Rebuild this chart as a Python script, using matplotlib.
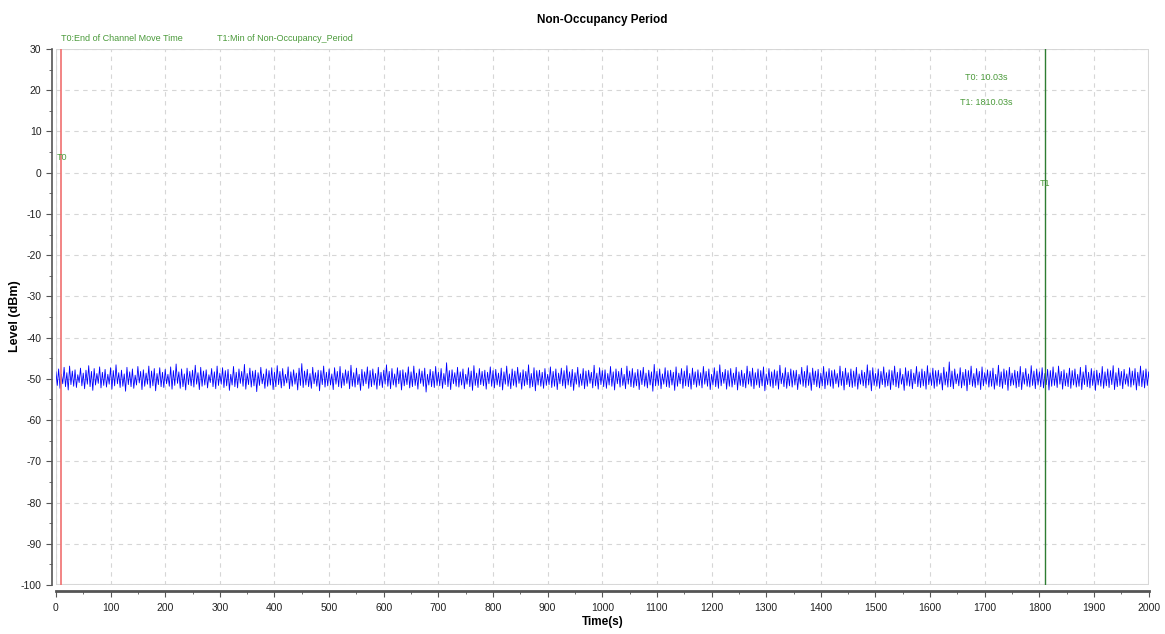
import matplotlib
matplotlib.use('Agg')
import matplotlib.pyplot as plt
from matplotlib.patches import Rectangle
from matplotlib.ticker import MultipleLocator

plt.rcParams['font.family'] = ['Liberation Sans', 'DejaVu Sans']
plt.rcParams['axes.unicode_minus'] = False

# ---- données ----
t0 = 10.03
t1 = 1810.03
pas = 5  # crêtes toutes les 5 s, creux décalés de 2.5 s

# crêtes du bruit (dBm)
cretes = [
    -48.3, -47.6, -48.9, -47.2, -48.5, -46.9, -48.1, -47.8, -49.0, -47.4, -48.6, -47.9, -46.8, -48.2, -47.5, -48.7, -47.1, -48.4, -47.7, -48.9,
    -47.3, -48.0, -46.6, -48.5, -47.9, -48.8, -47.2, -48.3, -47.6, -49.1, -47.0, -48.2, -47.8, -48.6, -46.9, -48.1, -47.5, -48.7, -47.3, -48.4,
    -47.7, -48.9, -47.1, -48.0, -46.4, -48.3, -47.6, -48.8, -47.4, -48.2, -47.9, -46.7, -48.5, -47.2, -48.1, -47.8, -49.0, -47.5, -48.3, -46.9,
    -48.6, -47.3, -48.0, -47.7, -48.9, -47.0, -48.4, -47.6, -48.2, -46.5, -48.7, -47.4, -48.1, -47.9, -48.5, -47.2, -48.8, -47.6, -48.0, -47.3,
    -48.4, -46.8, -48.2, -47.5, -48.9, -47.1, -48.3, -47.8, -48.6, -47.4, -46.3, -48.1, -47.7, -48.7, -47.2, -48.5, -47.9, -48.0, -46.9, -48.4,
    -47.6, -48.8, -47.3, -48.2, -47.0, -48.6, -47.8, -48.1, -46.7, -48.5, -47.4, -48.9, -47.7, -48.3, -47.1, -48.0, -47.6, -48.7, -47.2, -48.4,
    -47.9, -46.6, -48.2, -47.5, -48.8, -47.3, -48.0, -47.8, -48.5, -47.1, -48.3, -46.9, -48.6, -47.6, -48.1, -47.4, -48.9, -47.7, -48.2, -47.0,
    -48.4, -47.5, -48.7, -46.1, -48.0, -47.8, -48.5, -47.2, -48.3, -47.6, -48.9, -47.3, -48.1, -46.8, -48.6, -47.5, -48.2, -47.9, -48.4, -47.1,
    -48.0, -47.7, -48.6, -47.4, -48.3, -46.9, -48.8, -47.6, -48.1, -47.2, -48.5, -47.8, -48.2, -46.6, -48.7, -47.3, -48.0, -47.9, -48.4, -47.5,
    -48.9, -47.1, -48.2, -47.6, -48.6, -47.4, -48.0, -46.8, -48.3, -47.7, -48.5, -47.2, -48.8, -47.5, -48.1, -47.9, -48.4, -46.7, -48.6, -47.3,
    -48.0, -47.8, -48.7, -47.0, -48.3, -47.6, -48.2, -47.4, -48.9, -46.9, -48.1, -47.5, -48.5, -47.7, -48.0, -47.2, -48.6, -47.9, -48.3, -46.5,
    -48.2, -47.6, -48.8, -47.3, -48.0, -47.9, -48.4, -47.1, -48.6, -47.5, -48.1, -46.8, -48.7, -47.4, -48.3, -47.8, -48.5, -47.0, -48.2, -47.6,
    -48.9, -47.3, -48.1, -46.6, -48.4, -47.7, -48.0, -47.5, -48.6, -47.2, -48.3, -47.9, -48.7, -46.9, -48.2, -47.4, -48.5, -47.6, -48.0, -47.1,
    -48.8, -47.5, -48.3, -47.8, -48.1, -46.7, -48.6, -47.3, -48.4, -47.6, -48.0, -47.9, -48.9, -47.2, -48.2, -46.8, -48.5, -47.4, -48.1, -47.7,
    -48.6, -47.0, -48.3, -47.5, -48.0, -47.8, -48.7, -46.9, -48.2, -47.4, -48.5, -47.6, -48.1, -47.2, -48.8, -47.9, -48.4, -46.6, -48.0, -47.3,
    -48.7, -47.6, -48.2, -47.1, -48.5, -47.8, -48.0, -46.9, -48.4, -47.5, -48.9, -47.3, -48.1, -47.7, -48.6, -47.0, -48.3, -47.6, -48.2, -46.8,
    -48.5, -47.4, -48.0, -47.9, -48.6, -47.2, -48.3, -45.9, -48.1, -47.6, -48.8, -47.3, -48.4, -47.7, -48.0, -46.9, -48.7, -47.5, -48.2, -47.1,
    -48.5, -47.8, -48.1, -47.4, -48.9, -46.7, -48.3, -47.6, -48.0, -47.2, -48.6, -47.9, -48.2, -47.0, -48.4, -47.5, -48.8, -46.8, -48.1, -47.6,
    -48.3, -47.3, -48.7, -47.7, -48.0, -47.1, -48.5, -46.9, -48.2, -47.8, -48.6, -47.4, -48.0, -47.6, -48.9, -47.2, -48.3, -46.7, -48.4, -47.5,
    -48.1, -47.9, -48.6, -47.0, -48.3, -47.6, -48.0, -46.8, -48.5, -47.4, -48.2, -47.7, -48.8, -47.3, -48.1, -47.5, -48.4, -46.9, -48.0, -47.6, -48.3,
]

# creux du bruit (dBm)
creux = [
    -51.6, -52.3, -51.2, -51.9, -52.7, -51.4, -51.8, -52.1, -50.9, -51.7, -52.4, -51.3, -51.9, -52.8, -51.5, -51.1, -52.2, -51.6, -52.0, -51.3,
    -52.5, -51.7, -51.2, -52.1, -51.8, -53.0, -51.4, -51.9, -52.3, -51.5, -51.0, -52.6, -51.8, -51.3, -52.2, -51.7, -52.9, -51.4, -51.9, -52.1,
    -51.2, -51.8, -52.5, -51.6, -51.1, -52.3, -51.9, -52.7, -51.4, -51.7, -52.0, -51.3, -52.6, -51.8, -51.5, -52.2, -50.9, -51.9, -52.4, -51.6,
    -51.3, -52.1, -51.7, -52.8, -51.5, -51.9, -52.2, -51.1, -51.8, -52.5, -51.4, -52.0, -51.7, -53.1, -51.6, -51.2, -52.3, -51.8, -51.5, -52.6,
    -51.9, -51.4, -52.2, -51.7, -51.0, -52.4, -51.8, -51.3, -52.7, -51.6, -52.1, -51.5, -51.9, -52.3, -51.2, -51.8, -52.9, -51.4, -52.0, -51.7,
    -51.5, -52.6, -51.3, -51.9, -52.2, -51.6, -51.1, -52.4, -51.8, -52.0, -51.4, -52.8, -51.7, -51.2, -52.3, -51.9, -51.5, -52.5, -51.6, -52.1,
    -51.3, -51.8, -52.4, -51.5, -52.0, -51.2, -52.7, -51.7, -51.4, -52.2, -51.9, -51.6, -52.5, -51.1, -51.8, -53.2, -51.5, -51.9, -52.1, -51.6,
    -51.7, -52.3, -51.4, -51.9, -52.6, -51.2, -51.8, -52.0, -51.5, -52.4, -51.3, -51.9, -52.8, -51.6, -52.1, -51.4, -51.7, -52.5, -51.2, -51.8,
    -52.2, -51.5, -51.9, -52.7, -51.3, -51.8, -52.4, -51.6, -52.0, -51.1, -52.5, -51.7, -51.4, -52.2, -51.9, -52.9, -51.5, -51.8, -52.3, -51.6,
    -51.4, -52.1, -51.8, -52.6, -51.2, -51.7, -52.3, -51.5, -51.9, -52.8, -51.3, -52.0, -51.6, -52.4, -51.8, -51.1, -52.2, -51.7, -52.5, -51.4,
    -51.9, -52.3, -51.5, -51.8, -52.7, -51.2, -52.0, -51.6, -52.4, -51.3, -51.9, -52.1, -51.7, -52.6, -51.4, -51.8, -52.2, -51.5, -53.0, -51.7,
    -51.6, -52.4, -51.3, -51.9, -52.1, -51.5, -52.8, -51.8, -51.2, -52.3, -51.7, -51.9, -52.5, -51.4, -52.0, -51.6, -52.2, -51.3, -51.8, -52.6,
    -51.5, -51.9, -52.3, -51.7, -51.1, -52.5, -51.8, -52.0, -51.4, -52.7, -51.6, -51.9, -52.2, -51.3, -51.8, -52.4, -51.5, -52.1, -51.7, -52.9,
    -51.4, -51.8, -52.2, -51.6, -52.5, -51.2, -51.9, -52.3, -51.7, -52.0, -51.5, -52.6, -51.3, -51.8, -52.1, -51.6, -52.8, -51.4, -51.9, -52.2,
    -51.7, -52.4, -51.5, -51.8, -52.3, -51.2, -52.0, -51.6, -52.7, -51.4, -51.9, -52.1, -51.8, -52.5, -51.3, -51.7, -52.2, -51.5, -52.9, -51.6,
    -51.8, -52.3, -51.4, -52.0, -51.7, -52.6, -51.5, -51.9, -52.2, -51.3, -52.8, -51.6, -51.8, -52.4, -51.2, -51.9, -52.1, -51.7, -52.5, -51.4,
    -51.6, -52.3, -51.8, -51.3, -52.7, -51.5, -52.0, -51.9, -52.4, -51.2, -51.7, -52.2, -51.6, -52.9, -51.4, -51.8, -52.1, -51.5, -52.6, -51.7,
    -51.3, -52.0, -51.8, -52.5, -51.6, -51.9, -52.3, -51.4, -52.8, -51.7, -51.5, -52.2, -51.9, -52.6, -51.3, -51.8, -52.0, -51.6, -52.4, -51.5,
    -51.9, -52.2, -51.4, -52.7, -51.8, -51.6, -52.1, -51.3, -52.5, -51.7, -51.9, -52.3, -51.5, -52.0, -51.8, -52.6, -51.4, -51.9, -52.2, -51.6,
    -52.8, -51.5, -51.8, -52.3, -51.7, -52.1, -51.4, -52.6, -51.9, -51.6, -52.4, -51.3, -51.8, -52.0, -51.5, -52.7, -51.7, -51.9, -52.2, -51.6, -51.8,
]

# trace entrelacée crête / creux
temps, niveau = [], []
for i, (h, b) in enumerate(zip(cretes, creux)):
    temps += [i * pas, i * pas + pas / 2]
    niveau += [h, b]

vert = '#4a9a3a'
gris = '#555555'

fig = plt.figure(figsize=(11.65, 6.34), dpi=100)
ax = fig.add_axes([0.048, 0.0773, 0.938, 0.8454])

ax.plot(temps, niveau, color='#0000ff', linewidth=0.6)
ax.axvline(t0, color='#f07070', linewidth=1.2)
ax.axvline(t1, color='#2e7d32', linewidth=1.0)

ax.set_xlim(0, 2000)
ax.set_ylim(-100, 30)
ax.xaxis.set_major_locator(MultipleLocator(100))
ax.xaxis.set_minor_locator(MultipleLocator(50))
ax.yaxis.set_major_locator(MultipleLocator(10))
ax.yaxis.set_minor_locator(MultipleLocator(5))
ax.grid(True, which='major', linestyle=(0, (4, 4)), color='#d6d6d6', linewidth=0.8)

# cadre gris clair autour de la zone de tracé
ax.add_patch(Rectangle((0, 0), 1, 1, transform=ax.transAxes, fill=False,
                       edgecolor='#d8d8d8', linewidth=1.5, zorder=0))
for cote in ['top', 'right']:
    ax.spines[cote].set_visible(False)
ax.spines['bottom'].set_position(('outward', 4))
ax.spines['left'].set_position(('outward', 3))
ax.spines['bottom'].set_color(gris)
ax.spines['left'].set_color(gris)
ax.spines['bottom'].set_linewidth(2)
ax.spines['left'].set_linewidth(1.2)
ax.tick_params(which='major', length=4, color=gris, labelsize=7.5, labelcolor='#222222')
ax.tick_params(axis='x', which='major', pad=5)
ax.tick_params(which='minor', length=2.5, color=gris)

ax.set_title('Non-Occupancy Period', fontsize=8.5, fontweight='bold', pad=19)
ax.set_xlabel('Time(s)', fontsize=8.5, fontweight='bold')
ax.xaxis.set_label_coords(0.5, -0.058)
ax.set_ylabel('Level (dBm)', fontsize=9, fontweight='bold')
ax.yaxis.set_label_coords(-0.032, 0.502)

# annotations des marqueurs
ax.text(0.0046, 1.0205, 'T0:End of Channel Move Time', transform=ax.transAxes,
        color=vert, fontsize=6.5, va='center', ha='left')
ax.text(0.147, 1.0205, 'T1:Min of Non-Occupancy_Period', transform=ax.transAxes,
        color=vert, fontsize=6.5, va='center', ha='left')
ax.text(2, 3.8, 'T0', color=vert, fontsize=6.5, ha='left', va='center')
ax.text(t1, -2.5, 'T1', color=vert, fontsize=6.5, ha='center', va='center')
ax.text(1702, 23.2, 'T0: 10.03s', color=vert, fontsize=6.5, ha='center', va='center')
ax.text(1702, 17.1, 'T1: 1810.03s', color=vert, fontsize=6.5, ha='center', va='center')

plt.savefig('out.png', dpi=100)
